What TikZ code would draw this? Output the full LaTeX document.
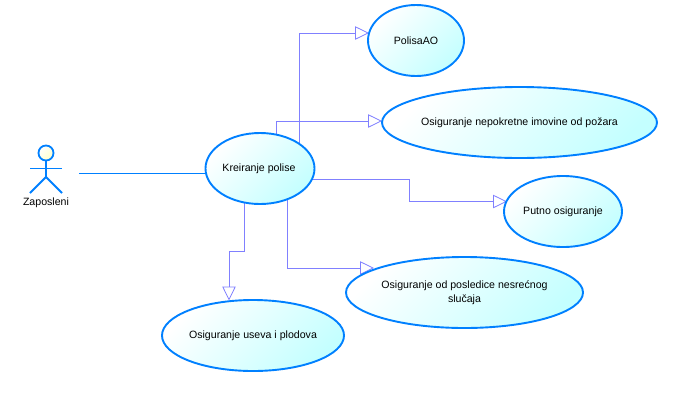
\documentclass[tikz,border=0pt]{standalone}
\usepackage{fontspec}
\setmainfont{Liberation Sans}
\usetikzlibrary{arrows.meta,shapes.geometric,backgrounds}
\definecolor{ucblue}{HTML}{0080FF}
\definecolor{ucline}{HTML}{8080FF}
\definecolor{uccyan}{HTML}{C4FFFF}
\definecolor{ucyellow}{HTML}{FFFFC8}
\tikzset{
  usecase/.style={ellipse,draw=ucblue,line width=1.9pt,inner sep=0pt,
    top color=white,bottom color=uccyan,shading angle=45,
    font=\fontsize{10.6pt}{14pt}\selectfont,text=black,align=center},
  conn/.style={draw=ucline,line width=0.8pt,
    -{Triangle[open,length=14pt,width=13.5pt,line width=0.8pt]}},
  actorline/.style={draw=ucblue,line width=1.8pt},
  assoc/.style={draw=ucblue,line width=0.9pt},
  lbl/.style={font=\fontsize{10.6pt}{14pt}\selectfont,text=black,inner sep=0pt}
}
\begin{document}
\begin{tikzpicture}[x=1pt,y=-1pt]
\useasboundingbox (0,0) rectangle (674,405);
% use cases
\node[usecase,minimum width=109pt,minimum height=71pt] (k) at (260,168.5) {\hspace*{-1pt}Kreiranje polise\hspace*{1pt}};
\node[usecase,minimum width=96pt,minimum height=71pt] (pa) at (416,40.5) {PolisaAO};
\node[usecase,minimum width=275pt,minimum height=71pt] (np) at (519.5,122.5) {\makebox[100pt]{Osiguranje nepokretne imovine od požara}};
\node[usecase,minimum width=118pt,minimum height=71pt] (pu) at (563,211.5) {Putno osiguranje};
\node[usecase,minimum width=237pt,minimum height=71pt] (ns) at (464.5,292.5) {\makebox[100pt]{\begin{tabular}{@{}c@{}}Osiguranje od posledice nesrećnog\\slučaja\end{tabular}}};
\node[usecase,minimum width=182pt,minimum height=71pt] (us) at (253,335.5) {Osiguranje useva i plodova};
% actor
\node[circle,draw=ucblue,line width=1.8pt,minimum size=15pt,inner sep=0pt,
  top color=white,bottom color=ucyellow,shading angle=45] (head) at (46,153) {};
\coordinate (hip) at (46,177);
\coordinate (arml) at (30,168.5);
\coordinate (armr) at (62,168.5);
\coordinate (footl) at (30,193);
\coordinate (footr) at (62,193);
\draw[actorline] (head.south) -- (hip);
\draw[actorline] (arml) -- (armr);
\draw[actorline] (footl) -- (hip) -- (footr);
\node[lbl] (zap) at (46,203) {Zaposleni};
% connectors, behind the use cases
\begin{scope}[on background layer]
\fill[white] (0,0) rectangle (674,405);
\coordinate (as) at (79,173);
\coordinate (ae) at (k.center |- as);
\draw[assoc] (as) -- (ae);
\coordinate (s1) at (299,168);
\coordinate (t1) at (369,33);
\draw[conn] (s1) |- (t1);
\coordinate (s2) at (276.5,150);
\coordinate (t2) at (382,121);
\draw[conn] (s2) |- (t2);
\coordinate (s3) at (300,179);
\coordinate (b3) at (409.5,179);
\coordinate (t3) at (507,201.5);
\draw[conn] (s3) -- (b3) |- (t3);
\coordinate (s4) at (287.5,190);
\coordinate (t4) at (374,268);
\draw[conn] (s4) |- (t4);
\coordinate (s5) at (244.5,190);
\coordinate (b5) at (244.5,251);
\coordinate (c5) at (229,251);
\coordinate (t5) at (229,300.5);
\draw[conn] (s5) -- (b5) -- (c5) -- (t5);
\end{scope}
\end{tikzpicture}
\end{document}
